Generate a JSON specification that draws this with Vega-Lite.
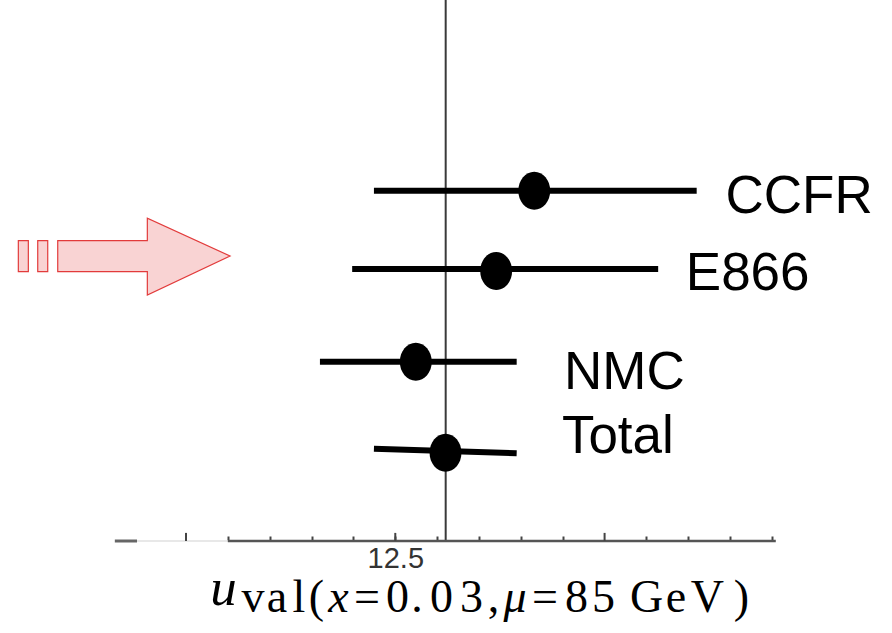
{
  "$schema": "https://vega.github.io/schema/vega-lite/v6.json",
  "width": 892,
  "height": 541,
  "autosize": {"type": "none"},
  "padding": {"left": 0, "top": 0, "right": 0, "bottom": 92},
  "background": "white",
  "config": {"view": {"stroke": null}},
  "datasets": {
    "results": [
      {"name": "CCFR", "lo": 12.449, "hi": 13.220, "est": 12.832, "y_l": 3.892, "y_r": 3.892, "y_pt": 3.892, "label_x": 13.289, "label_y": 3.644},
      {"name": "E866", "lo": 12.397, "hi": 13.128, "est": 12.741, "y_l": 3.022, "y_r": 3.022, "y_pt": 3.0, "label_x": 13.194, "label_y": 2.789},
      {"name": "NMC", "lo": 12.320, "hi": 12.790, "est": 12.549, "y_l": 1.992, "y_r": 1.992, "y_pt": 1.992, "label_x": 12.903, "label_y": 1.689},
      {"name": "Total", "lo": 12.449, "hi": 12.790, "est": 12.620, "y_l": 1.026, "y_r": 0.974, "y_pt": 0.981, "label_x": 12.898, "label_y": 0.978}
    ]
  },
  "layer": [
    {
      "data": {"values": [{"v": 12.6204}]},
      "mark": {"type": "rule", "color": "#3a3a3a", "strokeWidth": 2},
      "encoding": {
        "x": {
          "field": "v", "type": "quantitative",
          "scale": {"domain": [11.5557, 13.6866], "nice": false, "zero": false},
          "axis": {
            "title": null,
            "domain": false,
            "grid": false,
            "values": [12.1, 12.2, 12.3, 12.4, 12.5, 12.6, 12.7, 12.8, 12.9, 13.1, 13.2, 13.3, 13.4],
            "tickSize": -5,
            "tickWidth": 2,
            "tickColor": "#444444",
            "labelExpr": "datum.value == 12.5 ? '12.5' : ''",
            "labelFont": "Liberation Sans",
            "labelFontSize": 29,
            "labelColor": "#333333",
            "labelPadding": 8,
            "labelOverlap": false
          }
        }
      }
    },
    {
      "data": {"values": [{"a": 11.830, "b": 11.883}]},
      "mark": {"type": "rule", "color": "#666666", "strokeWidth": 3},
      "encoding": {
        "x": {"field": "a", "type": "quantitative", "title": null},
        "x2": {"field": "b"},
        "y": {"datum": 0, "type": "quantitative", "scale": {"domain": [0, 6.0111], "nice": false, "zero": false}, "axis": null}
      }
    },
    {
      "data": {"values": [{"a": 11.883, "b": 12.100}]},
      "mark": {"type": "rule", "color": "#e8e8e8", "strokeWidth": 2},
      "encoding": {
        "x": {"field": "a", "type": "quantitative", "title": null},
        "x2": {"field": "b"},
        "y": {"datum": 0, "type": "quantitative", "axis": null}
      }
    },
    {
      "data": {"values": [{"a": 12.100, "b": 13.409}]},
      "mark": {"type": "rule", "color": "#555555", "strokeWidth": 2.5},
      "encoding": {
        "x": {"field": "a", "type": "quantitative", "title": null},
        "x2": {"field": "b"},
        "y": {"datum": 0, "type": "quantitative", "axis": null}
      }
    },
    {
      "data": {"values": [{"t": 12.0}, {"t": 12.5}, {"t": 13.0}]},
      "mark": {"type": "rule", "color": "#444444", "strokeWidth": 2},
      "encoding": {
        "x": {"field": "t", "type": "quantitative", "title": null},
        "y": {"datum": 0, "type": "quantitative", "axis": null},
        "y2": {"datum": 0.09}
      }
    },
    {
      "data": {"name": "results"},
      "mark": {"type": "rule", "color": "black", "strokeWidth": 6, "strokeCap": "butt"},
      "encoding": {
        "x": {"field": "lo", "type": "quantitative", "title": null},
        "x2": {"field": "hi"},
        "y": {"field": "y_l", "type": "quantitative", "axis": null},
        "y2": {"field": "y_r"}
      }
    },
    {
      "data": {"name": "results"},
      "mark": {
        "type": "point",
        "filled": true,
        "opacity": 1,
        "color": "black",
        "size": 1444,
        "shape": "M0.84,0C0.84,0.5523,0.4639,1,0,1C-0.4639,1,-0.84,0.5523,-0.84,0C-0.84,-0.5523,-0.4639,-1,0,-1C0.4639,-1,0.84,-0.5523,0.84,0Z"
      },
      "encoding": {
        "x": {"field": "est", "type": "quantitative", "title": null},
        "y": {"field": "y_pt", "type": "quantitative", "axis": null}
      }
    },
    {
      "data": {"name": "results"},
      "mark": {"type": "text", "font": "Liberation Sans", "fontSize": 53, "align": "left", "baseline": "alphabetic", "color": "black"},
      "encoding": {
        "x": {"field": "label_x", "type": "quantitative", "title": null},
        "y": {"field": "label_y", "type": "quantitative", "axis": null},
        "text": {"field": "name"}
      }
    },
    {
      "data": {"values": [{"ax": 11.852, "ay": 3.1667}]},
      "mark": {
        "type": "point",
        "filled": true,
        "opacity": 1,
        "fill": "#f9d3d3",
        "stroke": "#e23b3b",
        "strokeWidth": 1.2,
        "size": 400,
        "shape": "M-10.57,-1.53L-9.57,-1.53L-9.57,1.57L-10.57,1.57Z M-8.63,-1.53L-7.63,-1.53L-7.63,1.57L-8.63,1.57Z M-6.63,-1.53L2.33,-1.53L2.33,-3.77L10.6,0L2.33,3.9L2.33,1.57L-6.63,1.57Z"
      },
      "encoding": {
        "x": {"field": "ax", "type": "quantitative", "title": null},
        "y": {"field": "ay", "type": "quantitative", "axis": null}
      }
    },
    {
      "data": {"values": [{"t": "u", "tx": 12.0896, "ty": -0.711}]},
      "mark": {"type": "text", "font": "Liberation Serif", "fontStyle": "italic", "fontSize": 53, "align": "center", "baseline": "alphabetic", "color": "black"},
      "encoding": {
        "x": {"field": "tx", "type": "quantitative", "title": null},
        "y": {"field": "ty", "type": "quantitative", "axis": null},
        "text": {"field": "t"}
      }
    },
    {
      "data": {"values": [
        {"t": "v", "tx": 12.1601, "ty": -0.789},
        {"t": "a", "tx": 12.2174, "ty": -0.789},
        {"t": "l", "tx": 12.2699, "ty": -0.789},
        {"t": "(", "tx": 12.3118, "ty": -0.789},
        {"t": "=", "tx": 12.4324, "ty": -0.789},
        {"t": "0", "tx": 12.5053, "ty": -0.789},
        {"t": ".", "tx": 12.5518, "ty": -0.789},
        {"t": "0", "tx": 12.6104, "ty": -0.789},
        {"t": "3", "tx": 12.6820, "ty": -0.789},
        {"t": ",", "tx": 12.7346, "ty": -0.789},
        {"t": "=", "tx": 12.8576, "ty": -0.789},
        {"t": "8", "tx": 12.9329, "ty": -0.789},
        {"t": "5", "tx": 12.9974, "ty": -0.789},
        {"t": "G", "tx": 13.1001, "ty": -0.789},
        {"t": "e", "tx": 13.1706, "ty": -0.789},
        {"t": "V", "tx": 13.2458, "ty": -0.789},
        {"t": ")", "tx": 13.3270, "ty": -0.789}
      ]},
      "mark": {"type": "text", "font": "Liberation Serif", "fontSize": 46, "align": "center", "baseline": "alphabetic", "color": "black"},
      "encoding": {
        "x": {"field": "tx", "type": "quantitative", "title": null},
        "y": {"field": "ty", "type": "quantitative", "axis": null},
        "text": {"field": "t"}
      }
    },
    {
      "data": {"values": [
        {"t": "x", "tx": 12.3643, "ty": -0.789},
        {"t": "μ", "tx": 12.7860, "ty": -0.789}
      ]},
      "mark": {"type": "text", "font": "Liberation Serif", "fontStyle": "italic", "fontSize": 46, "align": "center", "baseline": "alphabetic", "color": "black"},
      "encoding": {
        "x": {"field": "tx", "type": "quantitative", "title": null},
        "y": {"field": "ty", "type": "quantitative", "axis": null},
        "text": {"field": "t"}
      }
    }
  ]
}
